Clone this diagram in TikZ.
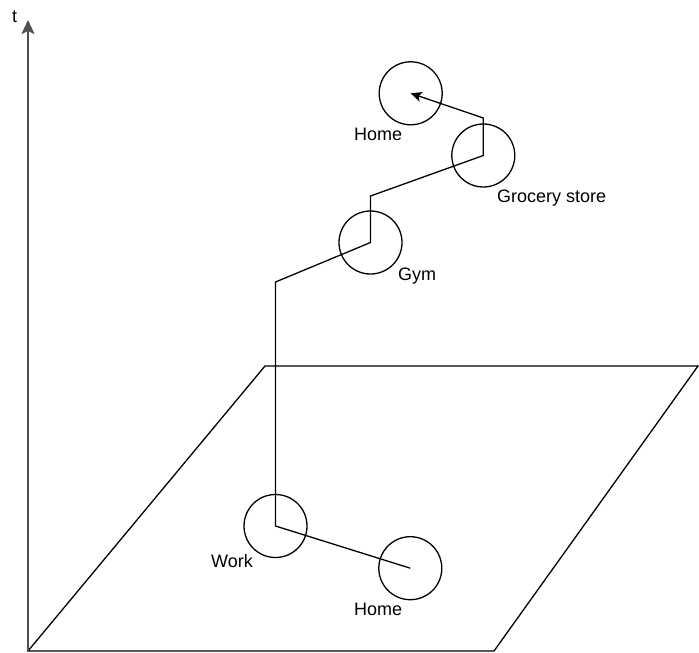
\documentclass[tikz,border=0pt]{standalone}
\usepackage{fontspec}
\setmainfont{Liberation Sans}
\usetikzlibrary{arrows.meta}
\definecolor{axisgray}{HTML}{505050}
\tikzset{
  place/.style={circle, draw=black, line width=1.3pt, minimum size=63pt, inner sep=0pt},
  lbl/.style={anchor=base west, inner sep=0pt, font=\fontsize{18}{20}\selectfont},
  trackline/.style={draw=black, line width=1.3pt, line join=miter},
  planeline/.style={draw=black, line width=1.3pt},
  axisline/.style={draw=axisgray, line width=2pt}
}
\begin{document}
\begin{tikzpicture}[x=1pt,y=-1pt]
\useasboundingbox (0,0) rectangle (699,653);

% ground plane
\draw[planeline] (28,651) -- (494,651) -- (698,366) -- (265,366) -- cycle;

% time axis
\coordinate (origin) at (28,651);
\coordinate (ttop) at (28,20);
\draw[axisline, -{Stealth[length=14pt,width=13pt,inset=3pt]}] (origin) -- (ttop);
\node[lbl] (tlabel) at (12,23) {t};

% visited places
\node[place] (homeA) at (410.3,568.2) {};
\node[place] (work) at (275.5,526) {};
\node[place] (gym) at (370.5,242.5) {};
\node[place] (grocery) at (483.3,155.5) {};
\node[place] (homeB) at (410.7,93.3) {};

% labels
\node[lbl] (lhomeA) at (354,615.5) {Home};
\node[lbl] (lwork) at (211,567) {Work};
\node[lbl] (lgym) at (398,280) {Gym};
\node[lbl] (lgrocery) at (497,202) {Grocery store};
\node[lbl] (lhomeB) at (354,140) {Home};

% space-time path corners
\coordinate (c1) at (275.5,282);
\coordinate (c2) at (370.5,196);
\coordinate (c3) at (483.3,118);

\draw[trackline, -{Stealth[length=11pt,width=10pt,inset=2.5pt]}]
  (homeA.center) -- (work.center) -- (c1) -- (gym.center) -- (c2)
  -- (grocery.center) -- (c3) -- (homeB.center);
\end{tikzpicture}
\end{document}
